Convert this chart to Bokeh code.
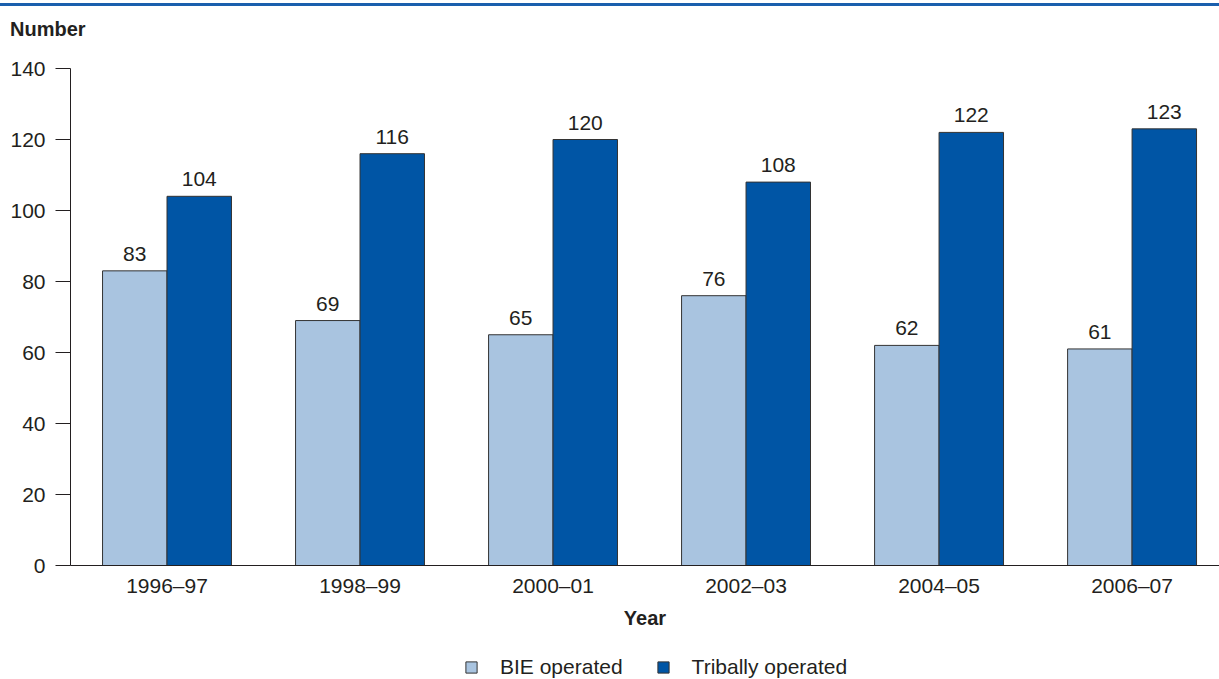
from bokeh.plotting import figure
from bokeh.models import (ColumnDataSource, FixedTicker, Legend, LegendItem, LabelSet, Div)
from bokeh.layouts import column
from bokeh.core.properties import value
from bokeh.embed import file_html
from bokeh.resources import INLINE

years = ["1996–97", "1998–99", "2000–01", "2002–03", "2004–05", "2006–07"]
bie = [83, 69, 65, 76, 62, 61]
tribal = [104, 116, 120, 108, 122, 123]
y_ticks = [0, 20, 40, 60, 80, 100, 120, 140]
series_names = ["BIE operated", "Tribally operated"]
y_title = "Number"
x_title = "Year"

LIGHT = "#a9c4e0"
DARK = "#0055a5"
FONT = "Liberation Sans"
TXT = "#231f20"
FS = "21px"
NAN = float("nan")

idx = list(range(len(years)))
bw = 0.334
src_b = ColumnDataSource(dict(x=[i - bw / 2 for i in idx], top=bie, lab=[str(v) for v in bie]))
src_t = ColumnDataSource(dict(x=[i + bw / 2 for i in idx], top=tribal, lab=[str(v) for v in tribal]))

p = figure(width=1219, height=596, output_backend="svg", toolbar_location=None,
           x_range=(-0.5, 5.453), y_range=(0, 140),
           min_border_left=70, min_border_right=0, min_border_top=24, min_border_bottom=75)
p.outline_line_color = None
p.grid.grid_line_color = None
p.background_fill_color = "white"
p.border_fill_color = "white"

rb = p.vbar(x="x", top="top", width=bw, bottom=0, source=src_b,
            fill_color=LIGHT, line_color="#333333", line_width=1)
rt = p.vbar(x="x", top="top", width=bw, bottom=0, source=src_t,
            fill_color=DARK, line_color="#333333", line_width=1)

for s in (src_b, src_t):
    p.add_layout(LabelSet(x="x", y="top", text="lab", source=s, text_align="center",
                          text_baseline="bottom", y_offset=10, text_font=value(FONT),
                          text_font_size=FS, text_color=TXT))

xa = p.xaxis[0]
xa.ticker = FixedTicker(ticks=idx)
xa.major_label_overrides = {i: y for i, y in zip(idx, years)}
xa.major_tick_out = 0
xa.major_tick_in = 0
xa.minor_tick_out = 0
xa.minor_tick_in = 0
xa.major_label_standoff = 8
xa.major_label_text_font = FONT
xa.major_label_text_font_size = FS
xa.major_label_text_color = TXT
xa.axis_label = x_title
xa.axis_label_text_font = FONT
xa.axis_label_text_font_style = "bold"
xa.axis_label_text_font_size = "20px"
xa.axis_label_text_color = TXT
xa.axis_label_standoff = 7
xa.axis_line_color = "#231f20"

ya = p.yaxis[0]
ya.ticker = FixedTicker(ticks=y_ticks)
ya.major_tick_out = 15
ya.major_tick_in = 0
ya.minor_tick_out = 0
ya.minor_tick_in = 0
ya.major_label_standoff = 10
ya.major_label_text_font = FONT
ya.major_label_text_font_size = FS
ya.major_label_text_color = TXT
ya.axis_line_color = "#231f20"
ya.major_tick_line_color = "#231f20"

# legend strip below the chart
lf = figure(width=1219, height=39, output_backend="svg", toolbar_location=None,
            x_range=(0, 1), y_range=(0, 1), min_border=0,
            x_axis_location=None, y_axis_location=None)
lf.grid.grid_line_color = None
lf.outline_line_color = None
lb = lf.vbar(x=[NAN], top=[NAN], width=0.1, fill_color=LIGHT, line_color="#333333")
lt = lf.vbar(x=[NAN], top=[NAN], width=0.1, fill_color=DARK, line_color="#333333")
legend = Legend(items=[LegendItem(label=series_names[0], renderers=[lb]),
                       LegendItem(label=series_names[1], renderers=[lt])],
                orientation="horizontal", location=(394, 0),
                glyph_width=14, glyph_height=14, label_standoff=22, spacing=33,
                padding=0, margin=0, border_line_color=None, background_fill_alpha=0,
                label_text_font=FONT, label_text_font_size=FS, label_text_color=TXT)
lf.add_layout(legend)

header = Div(width=1219, height=44, margin=0,
             text=('<div style="margin-top:3px;height:3px;width:1219px;background:#1a5fad"></div>'
                   '<div style="margin-top:12px;padding-left:10px;font-family:\'Liberation Sans\';'
                   'font-weight:bold;font-size:20px;line-height:23px;color:#231f20">'
                   + y_title + '</div>'))

layout = column(header, p, lf, spacing=0)
open("out.html", "w").write(file_html(layout, INLINE))
